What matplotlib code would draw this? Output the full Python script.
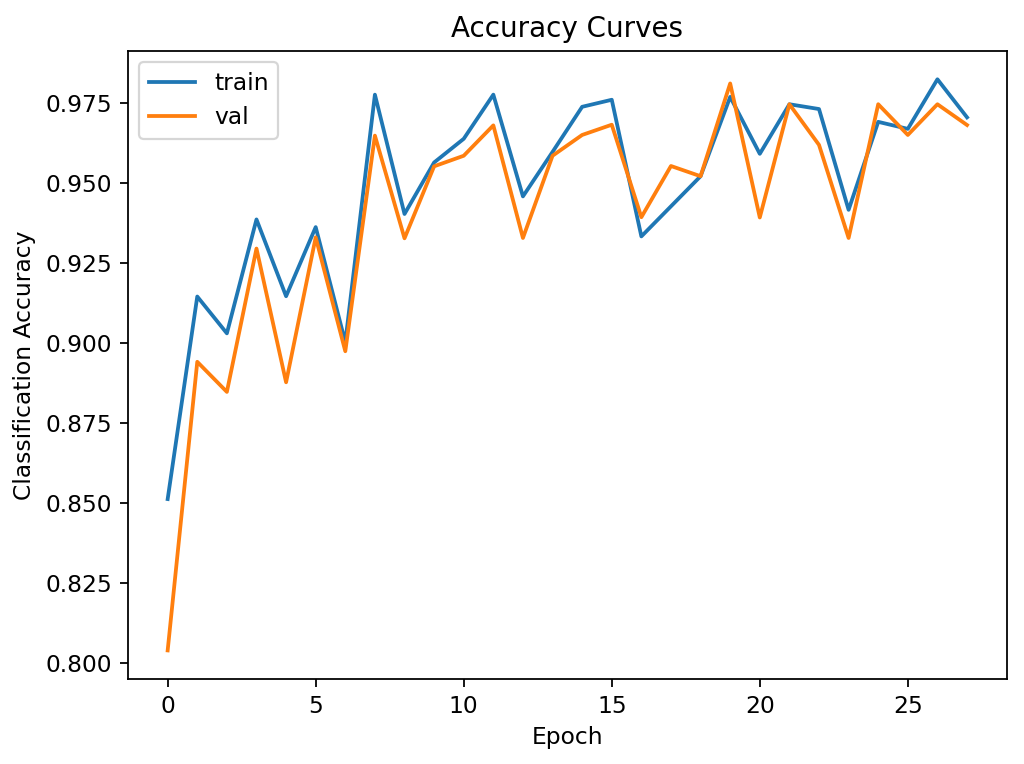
import matplotlib
matplotlib.use("Agg")
import matplotlib.pyplot as plt

epochs = list(range(28))
train_acc = [0.8511, 0.9144, 0.9029, 0.9385, 0.9145, 0.9361, 0.9001, 0.9775,
             0.9402, 0.9563, 0.9637, 0.9775, 0.9457, 0.9596, 0.9737, 0.9759,
             0.9332, 0.9426, 0.9520, 0.9768, 0.9590, 0.9745, 0.9730, 0.9415,
             0.9690, 0.9668, 0.9823, 0.9704]
val_acc = [0.8038, 0.8940, 0.8846, 0.9294, 0.8876, 0.9329, 0.8973, 0.9647,
           0.9326, 0.9551, 0.9584, 0.9679, 0.9327, 0.9584, 0.9649, 0.9681,
           0.9392, 0.9552, 0.9520, 0.9810, 0.9391, 0.9745, 0.9618, 0.9327,
           0.9745, 0.9649, 0.9745, 0.9680]

fig, ax = plt.subplots(figsize=(6.4, 4.775), dpi=160)
ax.plot(epochs, train_acc, label="train", lw=1.7)
ax.plot(epochs, val_acc, label="val", lw=1.7)
ax.set_title("Accuracy Curves", fontsize=12.5)
ax.set_xlabel("Epoch", fontsize=10.5)
ax.set_ylabel("Classification Accuracy", fontsize=10.5)
ax.tick_params(labelsize=10.5)
ax.legend(loc="upper left", fontsize=10.5)
fig.subplots_adjust(left=0.1247, right=0.9834, top=0.9336, bottom=0.1113)
plt.savefig("out.png")
